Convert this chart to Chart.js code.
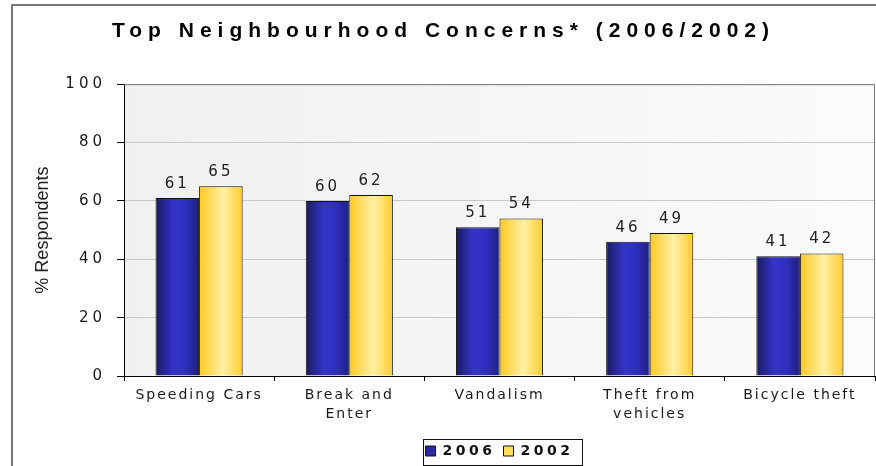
<!DOCTYPE html>
<html>
<head>
<meta charset="utf-8">
<title>Top Neighbourhood Concerns</title>
<script src="https://cdn.jsdelivr.net/npm/chart.js@4.4.1/dist/chart.umd.min.js"></script>
<style>
  html, body { margin: 0; padding: 0; background: #fff; }
  #wrap { position: relative; width: 876px; height: 466px; overflow: hidden; }
  #frame { position: absolute; left: 11px; top: 4px; width: 900px; height: 500px; border-left: 2px solid #777; border-top: 2px solid #777; box-sizing: border-box; }
  canvas { position: absolute; left: 0; top: 0; }
</style>
</head>
<body>
<div id="wrap">
  <div id="frame"></div>
  <canvas id="chart" width="876" height="466"></canvas>
</div>
<script>
const categories = ['Speeding Cars', ['Break and', 'Enter'], 'Vandalism', ['Theft from', 'vehicles'], 'Bicycle theft'];
const seriesLabels = ['2006', '2002'];
const values2006 = [61, 60, 51, 46, 41];
const values2002 = [65, 62, 54, 49, 42];
const yTicks = [0, 20, 40, 60, 80, 100];

const CAT_PCT = 0.58;
const blueStops = [[0, '#1a1a5c'], [0.4, '#3434c8'], [0.7, '#2f2fbf'], [1, '#1f1f80']];
const goldStops = [[0, '#ffc81e'], [0.55, '#fff0a6'], [1, '#ffcb2e']];
const swatches = ['#2a2aa6', '#ffdc60'];

// horizontal gradient across each bar, placed from the category scale
function barGradient(stops, side) {
    return (ctx) => {
        const chart = ctx.chart;
        const x = chart.scales.x;
        if (ctx.type !== 'data' || !x || !chart.chartArea) return stops[1][1];
        const center = x.getPixelForValue(ctx.dataIndex);
        const half = x.width / categories.length * CAT_PCT / 2;
        const x0 = side < 0 ? center - half : center;
        const g = chart.ctx.createLinearGradient(x0, 0, x0 + half, 0);
        stops.forEach(([o, c]) => g.addColorStop(o, c));
        return g;
    };
}

function withSpacing(obj, name, px, dx) {
    const orig = obj[name];
    obj[name] = function (...args) {
        const c = this.ctx;
        const prev = c.letterSpacing;
        c.save();
        c.letterSpacing = px;
        if (dx) c.translate(dx, 0);
        const r = orig.apply(this, args);
        c.restore();
        c.letterSpacing = prev;
        return r;
    };
}

const spacingPlugin = {
    id: 'spacing',
    beforeLayout(chart) {
        if (chart.$spaced) return;
        chart.$spaced = true;
        withSpacing(chart.titleBlock, 'draw', '6px', 6);
        withSpacing(chart.legend, 'fit', '3.5px');
        withSpacing(chart.legend, 'draw', '3.5px');
        withSpacing(chart.scales.y, 'drawLabels', '4px');
        withSpacing(chart.scales.x, 'drawLabels', '2px');
    }
};

const plotFrame = {
    id: 'plotFrame',
    beforeDraw(chart) {
        const { ctx, chartArea: a } = chart;
        const g = ctx.createLinearGradient(a.left, 0, a.right, 0);
        g.addColorStop(0, '#f0f0f0');
        g.addColorStop(1, '#fbfbfb');
        ctx.save();
        ctx.fillStyle = g;
        ctx.fillRect(a.left, a.top, a.right - a.left, a.bottom - a.top);
        ctx.restore();
    },
    beforeDatasetsDraw(chart) {
        const { ctx, chartArea: a } = chart;
        ctx.save();
        ctx.strokeStyle = '#7a7a7a';
        ctx.lineWidth = 1;
        ctx.beginPath();
        ctx.moveTo(a.left, a.top + 0.5);
        ctx.lineTo(a.right - 0.5, a.top + 0.5);
        ctx.lineTo(a.right - 0.5, a.bottom);
        ctx.stroke();
        ctx.restore();
    },
    afterDatasetsDraw(chart) {
        const { ctx } = chart;
        ctx.save();
        ctx.letterSpacing = '3px';
        ctx.font = '15px "DejaVu Sans"';
        ctx.fillStyle = '#222';
        ctx.textAlign = 'center';
        ctx.textBaseline = 'alphabetic';
        chart.data.datasets.forEach((ds, i) => {
            chart.getDatasetMeta(i).data.forEach((el, j) => {
                ctx.fillText(String(ds.data[j]), el.x, el.y - 10);
            });
        });
        ctx.restore();
    },
    afterDraw(chart) {
        const boxes = chart.legend.legendHitBoxes;
        if (!boxes || !boxes.length) return;
        const { ctx } = chart;
        const l = Math.min(...boxes.map(b => b.left)) - 3;
        const r = Math.max(...boxes.map(b => b.left + b.width)) + 8;
        const t = boxes[0].top - 5;
        const b = boxes[0].top + boxes[0].height + 7;
        ctx.save();
        ctx.strokeStyle = '#111';
        ctx.lineWidth = 1;
        ctx.strokeRect(Math.round(l) + 0.5, Math.round(t) + 0.5, Math.round(r - l), Math.round(b - t));
        ctx.restore();
    }
};

new Chart(document.getElementById('chart'), {
    type: 'bar',
    data: {
        labels: categories,
        datasets: [
            { label: seriesLabels[0], data: values2006, backgroundColor: barGradient(blueStops, -1) },
            { label: seriesLabels[1], data: values2002, backgroundColor: barGradient(goldStops, 1) }
        ]
    },
    options: {
        responsive: false,
        animation: false,
        devicePixelRatio: 1,
        layout: { padding: { top: 0, left: 0, right: 1, bottom: -2 } },
        datasets: {
            bar: { categoryPercentage: CAT_PCT, barPercentage: 1, borderWidth: 1, borderColor: '#111' }
        },
        plugins: {
            title: {
                display: true,
                text: 'Top Neighbourhood Concerns* (2006/2002)',
                color: '#000',
                font: { family: '"Liberation Sans", Arial', size: 21, weight: 'bold', lineHeight: 1.2 },
                padding: { top: 19, bottom: 40 }
            },
            legend: {
                position: 'bottom',
                fullSize: false,
                labels: {
                    color: '#111',
                    font: { family: '"DejaVu Sans"', size: 14, weight: 'bold' },
                    boxWidth: 10,
                    boxHeight: 10,
                    padding: 8,
                    generateLabels(chart) {
                        const items = Chart.defaults.plugins.legend.labels.generateLabels(chart);
                        items.forEach((it, i) => {
                            it.fillStyle = swatches[i];
                            it.strokeStyle = '#111';
                            it.lineWidth = 1;
                        });
                        return items;
                    }
                }
            },
            tooltip: { enabled: false }
        },
        scales: {
            x: {
                offset: true,
                grid: { offset: true, drawOnChartArea: false, tickLength: 5, tickColor: '#000' },
                border: { color: '#000', width: 1 },
                ticks: {
                    color: '#1a1a1a',
                    padding: 5,
                    maxRotation: 0,
                    font: { family: '"DejaVu Sans"', size: 14, lineHeight: 1.33 }
                },
                afterFit(scale) { scale.height = 60; }
            },
            y: {
                min: 0,
                max: 100,
                grid: { color: '#c8c8c8', tickLength: 7, tickColor: '#000' },
                border: { color: '#000', width: 1 },
                ticks: {
                    color: '#1a1a1a',
                    padding: 11,
                    font: { family: '"DejaVu Sans"', size: 15 }
                },
                afterBuildTicks(scale) { scale.ticks = yTicks.map(v => ({ value: v })); },
                title: {
                    display: true,
                    text: '% Respondents',
                    color: '#222',
                    font: { family: '"Liberation Sans", Arial', size: 18, lineHeight: 1.2 },
                    padding: { top: 32, bottom: 0 }
                },
                afterFit(scale) { scale.width = 124; }
            }
        }
    },
    plugins: [spacingPlugin, plotFrame]
});
</script>
</body>
</html>
